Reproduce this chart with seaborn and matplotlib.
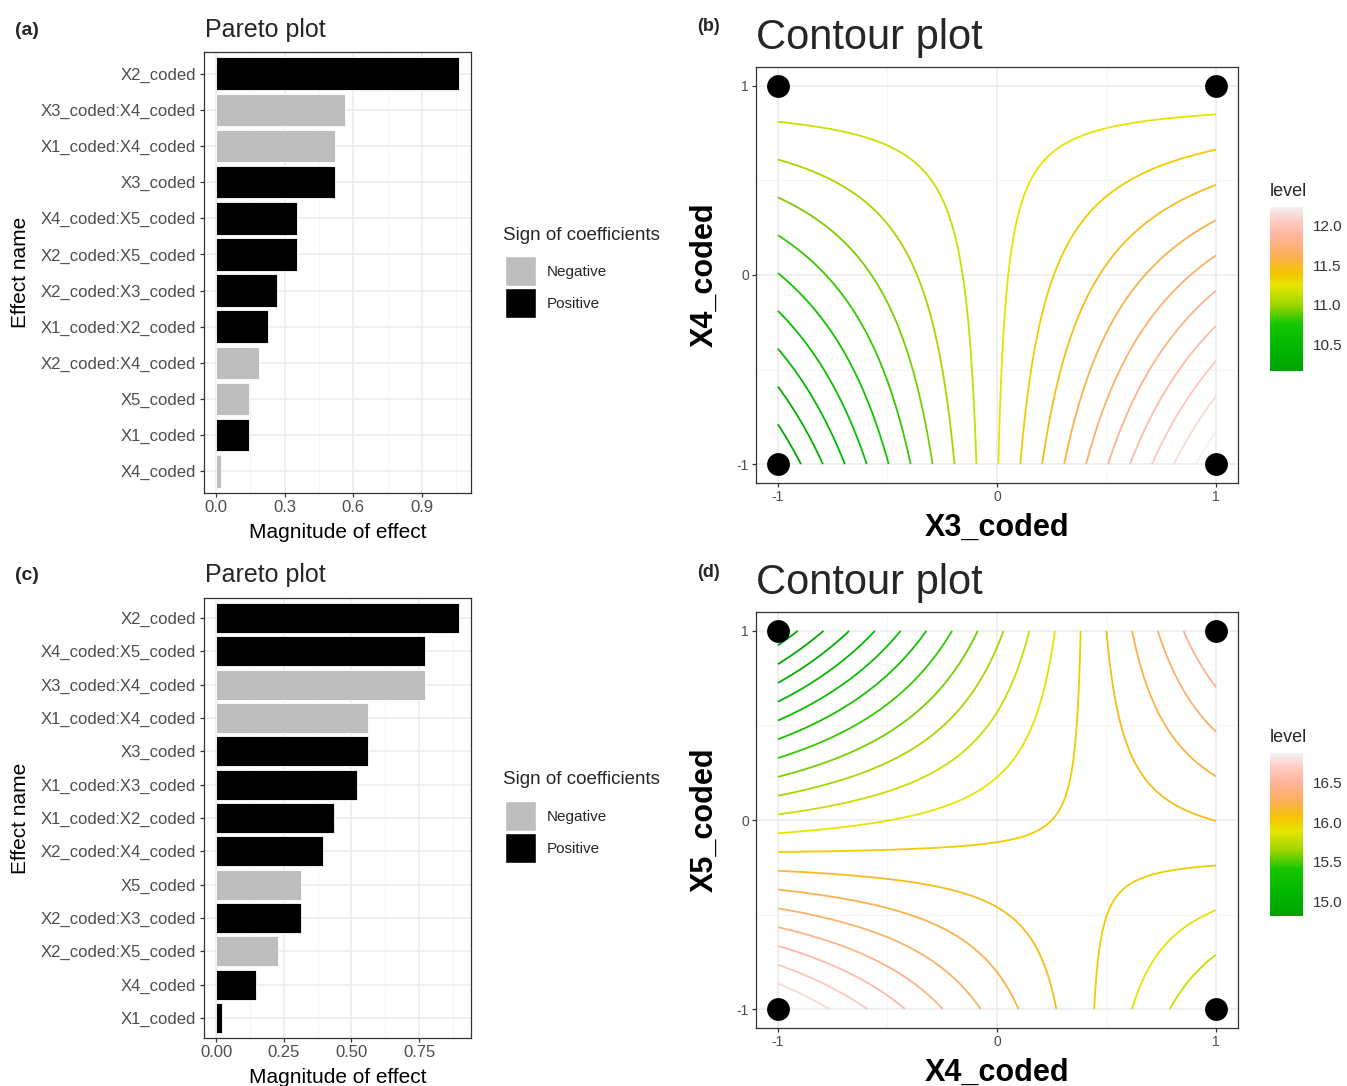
import numpy as np
import pandas as pd
import matplotlib
matplotlib.use('Agg')
import matplotlib.pyplot as plt
import seaborn as sns
from matplotlib.colors import LinearSegmentedColormap, Normalize
from matplotlib.cm import ScalarMappable
from matplotlib.patches import Patch
from matplotlib.ticker import MultipleLocator

# --- data ---
# Pareto (a)
effects_a = ['X2_coded', 'X3_coded:X4_coded', 'X1_coded:X4_coded', 'X3_coded',
             'X4_coded:X5_coded', 'X2_coded:X5_coded', 'X2_coded:X3_coded',
             'X1_coded:X2_coded', 'X2_coded:X4_coded', 'X5_coded', 'X1_coded', 'X4_coded']
magnitude_a = [1.062, 0.562, 0.520, 0.521, 0.353, 0.353, 0.267, 0.229, 0.186, 0.145, 0.145, 0.020]
sign_a = ['Positive', 'Negative', 'Negative', 'Positive', 'Positive', 'Positive',
          'Positive', 'Positive', 'Negative', 'Negative', 'Positive', 'Negative']

# Pareto (c)
effects_c = ['X2_coded', 'X4_coded:X5_coded', 'X3_coded:X4_coded', 'X1_coded:X4_coded',
             'X3_coded', 'X1_coded:X3_coded', 'X1_coded:X2_coded', 'X2_coded:X4_coded',
             'X5_coded', 'X2_coded:X3_coded', 'X2_coded:X5_coded', 'X4_coded', 'X1_coded']
magnitude_c = [0.897, 0.772, 0.772, 0.562, 0.562, 0.521, 0.436, 0.396, 0.314, 0.314, 0.229, 0.147, 0.020]
sign_c = ['Positive', 'Positive', 'Negative', 'Negative', 'Positive', 'Positive', 'Positive',
          'Positive', 'Negative', 'Positive', 'Negative', 'Positive', 'Positive']

# fitted surfaces for the contour plots (other factors held at 0)
surface_b = {'intercept': 11.2275, 'x': 0.521, 'y': -0.020, 'xy': -0.562}
levels_b = np.linspace(10.17, 12.23, 20)
cticks_b = [10.5, 11.0, 11.5, 12.0]

surface_d = {'intercept': 15.97, 'x': 0.147, 'y': -0.314, 'xy': 0.772}
levels_d = np.linspace(14.82, 16.87, 20)
cticks_d = [15.0, 15.5, 16.0, 16.5]

# design corner points
design_x = [-1, 1, -1, 1]
design_y = [-1, -1, 1, 1]

# --- style ---
W, H = 1347, 1086
SIGN_COLORS = {'Negative': '#BEBEBE', 'Positive': '#000000'}
LEVEL_CMAP = LinearSegmentedColormap.from_list('level', [
    (0.00, '#00A300'), (0.15, '#00B800'), (0.29, '#18C600'), (0.40, '#9AD400'),
    (0.52, '#E6E600'), (0.60, '#F5C400'), (0.70, '#FBAF55'), (0.82, '#FFB49A'),
    (0.92, '#FFCCC4'), (1.00, '#F2F2F2')])
GRID = '#EBEBEB'
BORDER = '#333333'
TICKTXT = '#4D4D4D'

sns.set_theme(style='white')
plt.rcParams['font.family'] = ['Liberation Sans', 'DejaVu Sans']


def fx(x):
    return x / W


def fy(y):
    return 1 - y / H


def box(l, t, r, b):
    return [fx(l), fy(b), (r - l) / W, (b - t) / H]


def frame(ax):
    for s in ax.spines.values():
        s.set_visible(True)
        s.set_color(BORDER)
        s.set_linewidth(0.9)
    ax.set_axisbelow(True)
    ax.grid(True, which='major', color=GRID, linewidth=1.1)
    ax.grid(True, which='minor', color='#F4F4F4', linewidth=0.6)
    ax.tick_params(which='major', length=3, width=0.9, color=BORDER, direction='out',
                   left=True, bottom=True)
    ax.tick_params(which='minor', length=0)


def pareto(fig, ax, effects, magnitude, signs, step, fmt, legend_y):
    df = pd.DataFrame({'Effect': effects, 'Magnitude': magnitude, 'Sign': signs})
    sns.barplot(data=df, x='Magnitude', y='Effect', hue='Sign', order=effects,
                hue_order=['Negative', 'Positive'], palette=SIGN_COLORS, dodge=False,
                width=0.9, edgecolor='white', linewidth=0.6, legend=False, ax=ax, zorder=2)
    top = max(magnitude)
    ax.set_xlim(-0.05 * top, 1.05 * top)
    ax.set_ylim(len(effects) - 1 + 0.6, -0.6)
    ax.xaxis.set_major_locator(MultipleLocator(step))
    ax.xaxis.set_minor_locator(MultipleLocator(step / 2))
    ax.xaxis.set_major_formatter(lambda v, p: fmt.format(v))
    frame(ax)
    ax.tick_params(axis='y', labelsize=12, labelcolor=TICKTXT, pad=3)
    ax.tick_params(axis='x', labelsize=12, labelcolor=TICKTXT, pad=2)
    ax.set_xlabel('Magnitude of effect', fontsize=15, color='black', va='center')
    ax.set_ylabel('Effect name', fontsize=15, color='black', va='center')
    ax.xaxis.set_label_coords(0.5, -0.089)
    ax.yaxis.set_label_coords(-0.688, 0.5)

    # legend: title as text, keys as a title-less legend
    fig.text(fx(503), fy(legend_y), 'Sign of coefficients', fontsize=13.5, va='center')
    handles = [Patch(facecolor=SIGN_COLORS[s], edgecolor='white', label=s)
               for s in ['Negative', 'Positive']]
    fig.legend(handles=handles, loc='upper left',
               bbox_to_anchor=(fx(505), fy(legend_y + 21)), frameon=False, fontsize=11,
               handlelength=2.0, handleheight=2.65, handletextpad=0.7,
               labelspacing=0.15, borderpad=0, borderaxespad=0)


def contour(fig, ax, cax, model, levels, cticks, xlab, ylab):
    grid = np.linspace(-1, 1, 241)
    X, Y = np.meshgrid(grid, grid)
    Z = model['intercept'] + model['x'] * X + model['y'] * Y + model['xy'] * X * Y
    norm = Normalize(levels[0], levels[-1])
    ax.contour(X, Y, Z, levels=levels, cmap=LEVEL_CMAP, norm=norm, linewidths=1.3, zorder=2)
    sns.scatterplot(x=design_x, y=design_y, color='black', s=270, linewidth=0,
                    ax=ax, zorder=3, clip_on=False, legend=False)
    ax.set_xlim(-1.1, 1.1)
    ax.set_ylim(-1.1, 1.1)
    ax.set_xticks([-1, 0, 1])
    ax.set_yticks([-1, 0, 1])
    ax.xaxis.set_minor_locator(MultipleLocator(0.5))
    ax.yaxis.set_minor_locator(MultipleLocator(0.5))
    ax.set_xticklabels(['-1', '0', '1'])
    ax.set_yticklabels(['-1', '0', '1'])
    frame(ax)
    ax.tick_params(labelsize=10, labelcolor=TICKTXT, pad=2)
    ax.set_xlabel(xlab, fontsize=22, fontweight='bold', color='black', va='center')
    ax.set_ylabel(ylab, fontsize=22, fontweight='bold', color='black', va='center')
    ax.xaxis.set_label_coords(0.5, -0.108)
    ax.yaxis.set_label_coords(-0.106, 0.5)

    cb = fig.colorbar(ScalarMappable(norm=norm, cmap=LEVEL_CMAP), cax=cax)
    cb.outline.set_visible(False)
    cb.set_ticks(cticks)
    cb.set_ticklabels([f'{t:.1f}' for t in cticks])
    cax.tick_params(axis='y', direction='in', left=True, right=True, color='white',
                    length=4.5, width=0.9, labelsize=11, labelcolor='#333333', pad=7)
    cax.set_title('level', fontsize=13, loc='left', pad=8, x=0.0)


fig = plt.figure(figsize=(W / 100, H / 100), dpi=100)
fig.patch.set_facecolor('white')

ax_a = fig.add_axes(box(204, 52, 471, 493))
ax_c = fig.add_axes(box(204, 598, 471, 1038))
ax_b = fig.add_axes(box(756, 67, 1238, 483))
ax_d = fig.add_axes(box(756, 612, 1238, 1028))
cax_b = fig.add_axes(box(1270, 207, 1303, 371))
cax_d = fig.add_axes(box(1270, 753, 1303, 916))

pareto(fig, ax_a, effects_a, magnitude_a, sign_a, 0.3, '{:.1f}', 235)
pareto(fig, ax_c, effects_c, magnitude_c, sign_c, 0.25, '{:.2f}', 780)
contour(fig, ax_b, cax_b, surface_b, levels_b, cticks_b, 'X3_coded', 'X4_coded')
contour(fig, ax_d, cax_d, surface_d, levels_d, cticks_d, 'X4_coded', 'X5_coded')

# titles and panel tags
for y, tag in [(35, '(a)'), (580, '(c)')]:
    fig.text(fx(15), fy(y), tag, fontsize=14, fontweight='bold', va='baseline')
for y in [37, 582]:
    fig.text(fx(205), fy(y), 'Pareto plot', fontsize=18, va='baseline')
for y, tag in [(31, '(b)'), (577, '(d)')]:
    fig.text(fx(697), fy(y), tag, fontsize=13, fontweight='bold', va='baseline')
for y in [49, 594]:
    fig.text(fx(756), fy(y), 'Contour plot', fontsize=30, va='baseline')

fig.savefig('out.png', dpi=100, facecolor='white')
